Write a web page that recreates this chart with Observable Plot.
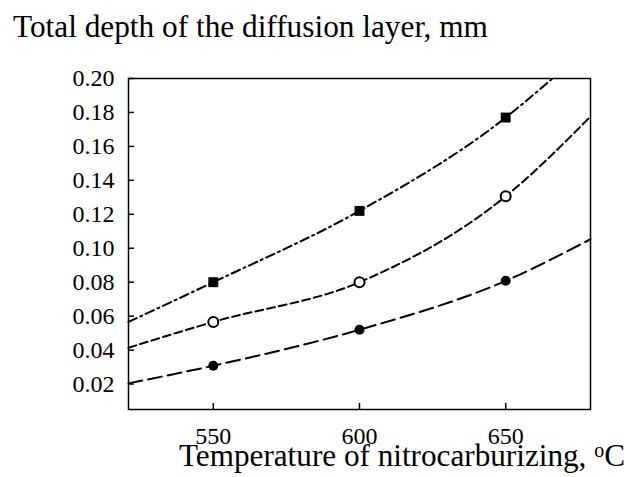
<!DOCTYPE html>
<html>
<head>
<meta charset="utf-8">
<script src="https://cdn.jsdelivr.net/npm/d3@7"></script>
<script src="https://cdn.jsdelivr.net/npm/@observablehq/plot@0.6"></script>
<style>
  body { margin: 0; background: white; }
  #chart svg { display: block; }
  #chart svg text { font-family: "Liberation Serif", "Times New Roman", serif !important; }
</style>
</head>
<body>
<div id="chart"></div>
<script>
const titleText = "Total depth of the diffusion layer, mm";
const xLabelMain = "Temperature of nitrocarburizing, ";
const xLabelSup = "o";
const xLabelEnd = "C";

const xTicks = [550, 600, 650];
const yTicks = [0.02, 0.04, 0.06, 0.08, 0.10, 0.12, 0.14, 0.16, 0.18, 0.20];

// series with squares (dash-dot)
const sqX = [521, 550, 600, 650, 666];
const sqY = [0.0566, 0.080, 0.122, 0.177, 0.200];
// series with open circles (short dashes)
const ocX = [521, 550, 600, 650, 679];
const ocY = [0.0414, 0.0566, 0.080, 0.1306, 0.1776];
// series with filled circles (long dashes)
const fcX = [521, 550, 600, 650, 679];
const fcY = [0.0204, 0.0308, 0.052, 0.0808, 0.1053];

const markerTemps = [550, 600, 650];

const toRows = (xs, ys) => xs.map((x, i) => ({x, y: ys[i]}));
const sq = toRows(sqX, sqY);
const oc = toRows(ocX, ocY);
const fc = toRows(fcX, fcY);
const onlyMarkers = rows => rows.filter(d => markerTemps.includes(d.x));

const serif = "Liberation Serif";

const plot = Plot.plot({
  width: 629,
  height: 477,
  marginTop: 78,
  marginBottom: 68,
  marginLeft: 128,
  marginRight: 39,
  x: {domain: [521, 679]},
  y: {domain: [0.005, 0.2]},
  style: {fontFamily: serif, fontSize: "24px", color: "black", background: "white"},
  marks: [
    Plot.axisX({ticks: xTicks, tickSize: -6, tickPadding: 23, tickFormat: d => String(d), label: null, fontSize: 24, fontFamily: serif, strokeWidth: 1.5}),
    Plot.axisY({ticks: yTicks, tickSize: -6, tickPadding: 20, tickFormat: d3.format(".2f"), label: null, fontSize: 24, fontFamily: serif, strokeWidth: 1.5}),
    Plot.line(sq, {x: "x", y: "y", curve: "monotone-x", stroke: "black", strokeWidth: 2, strokeDasharray: "9,4,2,4"}),
    Plot.line(oc, {x: "x", y: "y", curve: "monotone-x", stroke: "black", strokeWidth: 2, strokeDasharray: "8,4"}),
    Plot.line(fc, {x: "x", y: "y", curve: "monotone-x", stroke: "black", strokeWidth: 2, strokeDasharray: "14,6"}),
    Plot.dot(onlyMarkers(sq), {x: "x", y: "y", symbol: "square", r: 5.6, fill: "black", stroke: "none"}),
    Plot.dot(onlyMarkers(oc), {x: "x", y: "y", symbol: "circle", r: 5, fill: "white", stroke: "black", strokeWidth: 2}),
    Plot.dot(onlyMarkers(fc), {x: "x", y: "y", symbol: "circle", r: 5, fill: "black", stroke: "none"}),
    Plot.frame({stroke: "black", strokeWidth: 1.5})
  ]
});

document.getElementById("chart").appendChild(plot);

const svg = d3.select(plot);
svg.append("text")
  .attr("x", 13).attr("y", 37)
  .attr("text-anchor", "start")
  .attr("font-family", serif).attr("font-size", 31.3)
  .attr("fill", "black")
  .text(titleText);

const xl = svg.append("text")
  .attr("x", 625).attr("y", 466)
  .attr("text-anchor", "end")
  .attr("font-family", serif).attr("font-size", 31.2)
  .attr("fill", "black");
xl.append("tspan").text(xLabelMain);
xl.append("tspan").attr("font-size", 20).attr("dy", -9).text(xLabelSup);
xl.append("tspan").attr("dy", 9).text(xLabelEnd);
</script>
</body>
</html>
